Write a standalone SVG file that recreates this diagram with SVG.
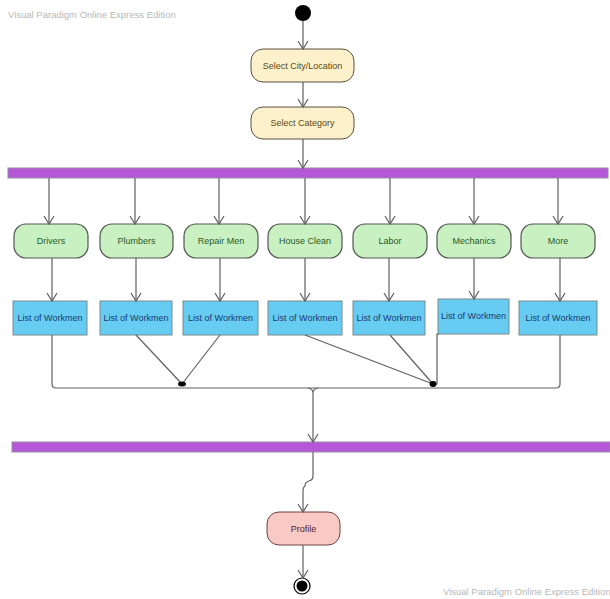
<svg xmlns="http://www.w3.org/2000/svg" width="610" height="599" viewBox="0 0 610 599">
<style>
.wm{font-family:"Liberation Sans",Arial,sans-serif;font-size:9.5px;fill:#b8b8b8}
.t{font-family:"Liberation Sans",Arial,sans-serif;font-size:9px;text-anchor:middle;dominant-baseline:central}
.y rect{fill:#fdf1cc;stroke:#5a5040;stroke-width:1}
.y text{fill:#5a4a10}
.g rect{fill:#c8f0c0;stroke:#555;stroke-width:1.2}
.g text{fill:#2a5a2a}
.b rect{fill:#66ccf2;stroke:#7a8a90;stroke-width:1}
.b text{fill:#1a3a70}
.p rect{fill:#f9c9c6;stroke:#704040;stroke-width:1}
.p text{fill:#5a1a1a}
.bar{fill:#b458d8;stroke:#9a8aa8;stroke-width:1}
.c path,.c line,.c polyline{fill:none;stroke:#606060;stroke-width:1.2}
</style>
<defs>
<marker id="a" markerWidth="12" markerHeight="12" refX="10" refY="6" orient="auto" markerUnits="userSpaceOnUse">
<path d="M2,1 L10,6 L2,11" fill="none" stroke="#606060" stroke-width="1.2"/>
</marker>
</defs>
<text class="wm" x="8" y="18">Visual Paradigm Online Express Edition</text>
<text class="wm" x="443" y="595">Visual Paradigm Online Express Edition</text>

<g id="start"><circle cx="303" cy="13" r="8" fill="#000"/></g>
<g id="selectCity" class="y"><rect x="251" y="49" width="103" height="33" rx="12"/><text class="t" x="302.5" y="65.5">Select City/Location</text></g>
<g id="selectCategory" class="y"><rect x="251" y="107" width="103" height="32" rx="12"/><text class="t" x="302.5" y="123">Select Category</text></g>
<g id="fork"><rect class="bar" x="8" y="168" width="600" height="10"/></g>

<g id="drivers" class="g"><rect x="14" y="224" width="74" height="34" rx="12"/><text class="t" x="51" y="241">Drivers</text></g>
<g id="plumbers" class="g"><rect x="100" y="224" width="73" height="34" rx="12"/><text class="t" x="136.5" y="241">Plumbers</text></g>
<g id="repairMen" class="g"><rect x="184" y="224" width="74" height="34" rx="12"/><text class="t" x="221" y="241">Repair Men</text></g>
<g id="houseClean" class="g"><rect x="268" y="224" width="74" height="34" rx="12"/><text class="t" x="305" y="241">House Clean</text></g>
<g id="labor" class="g"><rect x="353" y="224" width="74" height="34" rx="12"/><text class="t" x="390" y="241">Labor</text></g>
<g id="mechanics" class="g"><rect x="437" y="224" width="74" height="34" rx="12"/><text class="t" x="474" y="241">Mechanics</text></g>
<g id="more" class="g"><rect x="521" y="224" width="74" height="34" rx="12"/><text class="t" x="558" y="241">More</text></g>

<g id="list1" class="b"><rect x="13" y="301" width="74" height="34"/><text class="t" x="50" y="318">List of Workmen</text></g>
<g id="list2" class="b"><rect x="100" y="301" width="72" height="34"/><text class="t" x="136" y="318">List of Workmen</text></g>
<g id="list3" class="b"><rect x="183" y="301" width="75" height="34"/><text class="t" x="220.5" y="318">List of Workmen</text></g>
<g id="list4" class="b"><rect x="268" y="301" width="74" height="34"/><text class="t" x="305" y="318">List of Workmen</text></g>
<g id="list5" class="b"><rect x="353" y="301" width="72" height="34"/><text class="t" x="389" y="318">List of Workmen</text></g>
<g id="list6" class="b"><rect x="438" y="299" width="71" height="35"/><text class="t" x="473.5" y="316">List of Workmen</text></g>
<g id="list7" class="b"><rect x="519" y="301" width="78" height="34"/><text class="t" x="558" y="318">List of Workmen</text></g>

<g id="join"><rect class="bar" x="12" y="442" width="598" height="10"/></g>
<g id="profile" class="p"><rect x="267" y="512" width="73" height="33" rx="12"/><text class="t" x="303.5" y="528.5">Profile</text></g>
<g id="end"><circle cx="302" cy="586" r="8" fill="#fff" stroke="#000" stroke-width="1.2"/><circle cx="302" cy="586" r="5.5" fill="#000"/></g>

<g id="connectors" class="c">
<line x1="303" y1="21" x2="303" y2="49" marker-end="url(#a)"/>
<line x1="303" y1="82" x2="303" y2="107" marker-end="url(#a)"/>
<line x1="303" y1="139" x2="303" y2="168" marker-end="url(#a)"/>
<line x1="49" y1="178" x2="49" y2="224" marker-end="url(#a)"/>
<line x1="135" y1="178" x2="135" y2="224" marker-end="url(#a)"/>
<line x1="219" y1="178" x2="219" y2="224" marker-end="url(#a)"/>
<line x1="305" y1="178" x2="305" y2="224" marker-end="url(#a)"/>
<line x1="390" y1="178" x2="390" y2="224" marker-end="url(#a)"/>
<line x1="474" y1="178" x2="474" y2="224" marker-end="url(#a)"/>
<line x1="558" y1="178" x2="558" y2="224" marker-end="url(#a)"/>
<line x1="52" y1="258" x2="52" y2="301" marker-end="url(#a)"/>
<line x1="136" y1="258" x2="136" y2="301" marker-end="url(#a)"/>
<line x1="220" y1="258" x2="220" y2="301" marker-end="url(#a)"/>
<line x1="305" y1="258" x2="305" y2="301" marker-end="url(#a)"/>
<line x1="389" y1="258" x2="389" y2="301" marker-end="url(#a)"/>
<line x1="474" y1="258" x2="474" y2="299" marker-end="url(#a)"/>
<line x1="560" y1="258" x2="560" y2="301" marker-end="url(#a)"/>
<path d="M52,335 V384 Q52,388 56,388 H556 Q560,388 560,384 V335"/>
<line x1="136" y1="335" x2="182" y2="384"/>
<line x1="220" y1="335" x2="182" y2="384"/>
<line x1="305" y1="335" x2="433" y2="384"/>
<line x1="390" y1="335" x2="433" y2="384"/>
<path d="M439,334 H437 V384 H433"/>
<ellipse cx="182" cy="384" rx="4" ry="2.5" fill="#000" stroke="none"/>
<ellipse cx="433" cy="384" rx="3.5" ry="3" fill="#000" stroke="none"/>
<path d="M308,388 Q313,389 313,393 Q313,389 318,388"/>
<line x1="313" y1="393" x2="313" y2="442" marker-end="url(#a)"/>
<path d="M313,452 V476 Q313,480 309,481 Q305,482 305,486 Q303,487 303,492 V512" marker-end="url(#a)"/>
<line x1="303" y1="545" x2="303" y2="578" marker-end="url(#a)"/>
</g>
</svg>
